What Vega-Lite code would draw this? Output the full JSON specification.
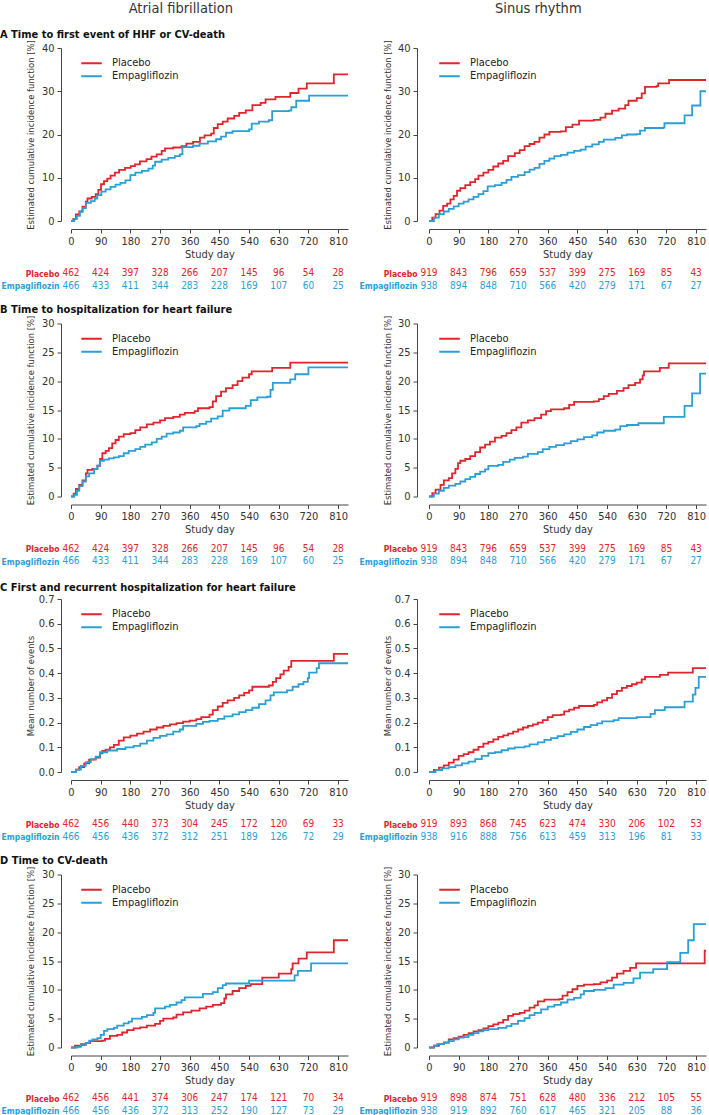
{
"$schema":"https://vega.github.io/schema/vega-lite/v6.json",
"padding":{"left":0,"top":1,"right":0,"bottom":0},
"config":{
 "font":"Liberation Sans Narrow, Arial Narrow, DejaVu Sans Condensed, sans-serif",
 "view":{"stroke":null},
 "axis":{"grid":false,"domainColor":"#444","tickColor":"#444","labelColor":"#333","titleColor":"#333","labelFontSize":11,"titleFontSize":11,"titleFontWeight":"normal","tickSize":4,"labelOverlap":false},
 "legend":{"orient":"none","legendX":9,"legendY":9,"symbolType":"stroke","symbolSize":420,"symbolStrokeWidth":2,"labelFontSize":11,"labelColor":"#222","labelOffset":9,"rowPadding":0,"clipHeight":12.5}
},
"datasets":{
"A_AF":[
{"group":"Placebo","day":0,"value":0},{"group":"Placebo","day":7,"value":0.5},{"group":"Placebo","day":15,"value":1.5},{"group":"Placebo","day":25,"value":2.2},{"group":"Placebo","day":35,"value":3.3},{"group":"Placebo","day":45,"value":4.5},{"group":"Placebo","day":50,"value":5.2},{"group":"Placebo","day":63,"value":5.6},{"group":"Placebo","day":75,"value":6.2},{"group":"Placebo","day":83,"value":7.2},{"group":"Placebo","day":91,"value":8.5},{"group":"Placebo","day":100,"value":9.2},{"group":"Placebo","day":110,"value":9.8},{"group":"Placebo","day":120,"value":10.5},{"group":"Placebo","day":133,"value":11.2},{"group":"Placebo","day":146,"value":11.8},{"group":"Placebo","day":164,"value":12.3},{"group":"Placebo","day":181,"value":12.7},{"group":"Placebo","day":194,"value":13.1},{"group":"Placebo","day":209,"value":13.8},{"group":"Placebo","day":229,"value":14.3},{"group":"Placebo","day":244,"value":14.9},{"group":"Placebo","day":260,"value":15.4},{"group":"Placebo","day":275,"value":16.2},{"group":"Placebo","day":285,"value":16.8},{"group":"Placebo","day":310,"value":17},{"group":"Placebo","day":335,"value":17.3},{"group":"Placebo","day":350,"value":17.9},{"group":"Placebo","day":370,"value":18.3},{"group":"Placebo","day":391,"value":19.3},{"group":"Placebo","day":405,"value":19.8},{"group":"Placebo","day":425,"value":20.2},{"group":"Placebo","day":433,"value":21.5},{"group":"Placebo","day":445,"value":22.4},{"group":"Placebo","day":460,"value":23},{"group":"Placebo","day":475,"value":23.7},{"group":"Placebo","day":495,"value":24.3},{"group":"Placebo","day":510,"value":25},{"group":"Placebo","day":530,"value":25.6},{"group":"Placebo","day":550,"value":26.8},{"group":"Placebo","day":575,"value":27.3},{"group":"Placebo","day":590,"value":28.1},{"group":"Placebo","day":620,"value":28.7},{"group":"Placebo","day":665,"value":29.6},{"group":"Placebo","day":690,"value":30.6},{"group":"Placebo","day":715,"value":31.8},{"group":"Placebo","day":797,"value":33.9},{"group":"Placebo","day":840,"value":33.9},
{"group":"Empagliflozin","day":0,"value":0},{"group":"Empagliflozin","day":10,"value":0.5},{"group":"Empagliflozin","day":18,"value":1.2},{"group":"Empagliflozin","day":27,"value":2.2},{"group":"Empagliflozin","day":35,"value":3},{"group":"Empagliflozin","day":45,"value":4.2},{"group":"Empagliflozin","day":60,"value":4.6},{"group":"Empagliflozin","day":72,"value":5.2},{"group":"Empagliflozin","day":80,"value":6},{"group":"Empagliflozin","day":92,"value":6.8},{"group":"Empagliflozin","day":105,"value":7.3},{"group":"Empagliflozin","day":120,"value":7.9},{"group":"Empagliflozin","day":135,"value":8.4},{"group":"Empagliflozin","day":150,"value":8.8},{"group":"Empagliflozin","day":165,"value":9.4},{"group":"Empagliflozin","day":180,"value":10.6},{"group":"Empagliflozin","day":195,"value":11.2},{"group":"Empagliflozin","day":215,"value":11.6},{"group":"Empagliflozin","day":235,"value":12.1},{"group":"Empagliflozin","day":248,"value":12.8},{"group":"Empagliflozin","day":255,"value":13.7},{"group":"Empagliflozin","day":275,"value":14.2},{"group":"Empagliflozin","day":295,"value":14.6},{"group":"Empagliflozin","day":315,"value":15},{"group":"Empagliflozin","day":330,"value":15.4},{"group":"Empagliflozin","day":338,"value":17.1},{"group":"Empagliflozin","day":370,"value":17.4},{"group":"Empagliflozin","day":390,"value":17.9},{"group":"Empagliflozin","day":415,"value":18.4},{"group":"Empagliflozin","day":440,"value":18.9},{"group":"Empagliflozin","day":455,"value":19.5},{"group":"Empagliflozin","day":470,"value":20.4},{"group":"Empagliflozin","day":490,"value":20.8},{"group":"Empagliflozin","day":540,"value":21.2},{"group":"Empagliflozin","day":548,"value":22.5},{"group":"Empagliflozin","day":570,"value":23},{"group":"Empagliflozin","day":600,"value":23.3},{"group":"Empagliflozin","day":610,"value":25.4},{"group":"Empagliflozin","day":660,"value":25.5},{"group":"Empagliflozin","day":668,"value":26.3},{"group":"Empagliflozin","day":683,"value":27.8},{"group":"Empagliflozin","day":722,"value":29},{"group":"Empagliflozin","day":840,"value":29}],
"A_SR":[
{"group":"Placebo","day":0,"value":0},{"group":"Placebo","day":10,"value":0.8},{"group":"Placebo","day":20,"value":1.6},{"group":"Placebo","day":32,"value":2.4},{"group":"Placebo","day":43,"value":3.5},{"group":"Placebo","day":55,"value":4},{"group":"Placebo","day":65,"value":5},{"group":"Placebo","day":75,"value":5.8},{"group":"Placebo","day":85,"value":7},{"group":"Placebo","day":95,"value":7.6},{"group":"Placebo","day":110,"value":8.3},{"group":"Placebo","day":125,"value":9},{"group":"Placebo","day":140,"value":9.7},{"group":"Placebo","day":150,"value":10.5},{"group":"Placebo","day":165,"value":11.2},{"group":"Placebo","day":180,"value":11.8},{"group":"Placebo","day":195,"value":12.6},{"group":"Placebo","day":210,"value":13.3},{"group":"Placebo","day":225,"value":13.9},{"group":"Placebo","day":240,"value":15},{"group":"Placebo","day":260,"value":15.7},{"group":"Placebo","day":275,"value":16.4},{"group":"Placebo","day":290,"value":17.3},{"group":"Placebo","day":305,"value":17.8},{"group":"Placebo","day":320,"value":18.3},{"group":"Placebo","day":335,"value":19.3},{"group":"Placebo","day":350,"value":20},{"group":"Placebo","day":365,"value":20.6},{"group":"Placebo","day":400,"value":20.7},{"group":"Placebo","day":415,"value":21.7},{"group":"Placebo","day":435,"value":22.3},{"group":"Placebo","day":455,"value":23.2},{"group":"Placebo","day":500,"value":23.4},{"group":"Placebo","day":520,"value":23.9},{"group":"Placebo","day":535,"value":24.8},{"group":"Placebo","day":555,"value":25.5},{"group":"Placebo","day":575,"value":26},{"group":"Placebo","day":595,"value":26.8},{"group":"Placebo","day":605,"value":27.8},{"group":"Placebo","day":630,"value":28.4},{"group":"Placebo","day":645,"value":29.5},{"group":"Placebo","day":655,"value":31},{"group":"Placebo","day":690,"value":31.2},{"group":"Placebo","day":695,"value":31.8},{"group":"Placebo","day":728,"value":32.6},{"group":"Placebo","day":840,"value":32.6},
{"group":"Empagliflozin","day":0,"value":0},{"group":"Empagliflozin","day":15,"value":0.8},{"group":"Empagliflozin","day":30,"value":1.6},{"group":"Empagliflozin","day":45,"value":2.2},{"group":"Empagliflozin","day":60,"value":2.8},{"group":"Empagliflozin","day":75,"value":3.4},{"group":"Empagliflozin","day":90,"value":4},{"group":"Empagliflozin","day":105,"value":4.5},{"group":"Empagliflozin","day":120,"value":5},{"group":"Empagliflozin","day":135,"value":5.6},{"group":"Empagliflozin","day":150,"value":6.2},{"group":"Empagliflozin","day":165,"value":6.9},{"group":"Empagliflozin","day":178,"value":8},{"group":"Empagliflozin","day":200,"value":8.3},{"group":"Empagliflozin","day":220,"value":8.8},{"group":"Empagliflozin","day":235,"value":9.5},{"group":"Empagliflozin","day":250,"value":10.2},{"group":"Empagliflozin","day":270,"value":10.6},{"group":"Empagliflozin","day":290,"value":11.3},{"group":"Empagliflozin","day":305,"value":11.9},{"group":"Empagliflozin","day":320,"value":12.3},{"group":"Empagliflozin","day":335,"value":13.2},{"group":"Empagliflozin","day":350,"value":13.9},{"group":"Empagliflozin","day":365,"value":14.4},{"group":"Empagliflozin","day":380,"value":15},{"group":"Empagliflozin","day":400,"value":15.3},{"group":"Empagliflozin","day":420,"value":15.8},{"group":"Empagliflozin","day":440,"value":16.2},{"group":"Empagliflozin","day":460,"value":16.5},{"group":"Empagliflozin","day":475,"value":17.2},{"group":"Empagliflozin","day":495,"value":17.7},{"group":"Empagliflozin","day":515,"value":18.3},{"group":"Empagliflozin","day":530,"value":18.8},{"group":"Empagliflozin","day":565,"value":19.2},{"group":"Empagliflozin","day":585,"value":19.8},{"group":"Empagliflozin","day":600,"value":20},{"group":"Empagliflozin","day":630,"value":20.1},{"group":"Empagliflozin","day":640,"value":20.9},{"group":"Empagliflozin","day":655,"value":21.5},{"group":"Empagliflozin","day":710,"value":21.6},{"group":"Empagliflozin","day":714,"value":22.6},{"group":"Empagliflozin","day":775,"value":24.4},{"group":"Empagliflozin","day":798,"value":26.7},{"group":"Empagliflozin","day":823,"value":30},{"group":"Empagliflozin","day":840,"value":30}],
"B_AF":[
{"group":"Placebo","day":0,"value":0},{"group":"Placebo","day":8,"value":0.5},{"group":"Placebo","day":15,"value":1.3},{"group":"Placebo","day":25,"value":2},{"group":"Placebo","day":35,"value":2.8},{"group":"Placebo","day":45,"value":4},{"group":"Placebo","day":50,"value":4.6},{"group":"Placebo","day":65,"value":4.8},{"group":"Placebo","day":80,"value":5.3},{"group":"Placebo","day":88,"value":6.5},{"group":"Placebo","day":95,"value":7.5},{"group":"Placebo","day":105,"value":7.9},{"group":"Placebo","day":115,"value":8.4},{"group":"Placebo","day":125,"value":9.2},{"group":"Placebo","day":135,"value":9.8},{"group":"Placebo","day":145,"value":10.4},{"group":"Placebo","day":160,"value":10.8},{"group":"Placebo","day":180,"value":11},{"group":"Placebo","day":195,"value":11.5},{"group":"Placebo","day":210,"value":12},{"group":"Placebo","day":230,"value":12.5},{"group":"Placebo","day":250,"value":12.8},{"group":"Placebo","day":270,"value":13.2},{"group":"Placebo","day":285,"value":13.6},{"group":"Placebo","day":310,"value":13.8},{"group":"Placebo","day":330,"value":14.2},{"group":"Placebo","day":345,"value":14.5},{"group":"Placebo","day":375,"value":14.8},{"group":"Placebo","day":385,"value":15.3},{"group":"Placebo","day":420,"value":15.5},{"group":"Placebo","day":430,"value":16.5},{"group":"Placebo","day":440,"value":17.4},{"group":"Placebo","day":455,"value":18.2},{"group":"Placebo","day":470,"value":18.8},{"group":"Placebo","day":490,"value":19.3},{"group":"Placebo","day":505,"value":20},{"group":"Placebo","day":520,"value":20.6},{"group":"Placebo","day":540,"value":21.2},{"group":"Placebo","day":548,"value":21.7},{"group":"Placebo","day":610,"value":22.3},{"group":"Placebo","day":665,"value":23.2},{"group":"Placebo","day":840,"value":23.2},
{"group":"Empagliflozin","day":0,"value":0},{"group":"Empagliflozin","day":10,"value":0.3},{"group":"Empagliflozin","day":18,"value":1},{"group":"Empagliflozin","day":25,"value":1.8},{"group":"Empagliflozin","day":35,"value":2.6},{"group":"Empagliflozin","day":45,"value":3.5},{"group":"Empagliflozin","day":55,"value":4},{"group":"Empagliflozin","day":70,"value":4.8},{"group":"Empagliflozin","day":80,"value":5.4},{"group":"Empagliflozin","day":88,"value":6.2},{"group":"Empagliflozin","day":100,"value":6.4},{"group":"Empagliflozin","day":115,"value":6.6},{"group":"Empagliflozin","day":130,"value":6.8},{"group":"Empagliflozin","day":145,"value":7},{"group":"Empagliflozin","day":160,"value":7.5},{"group":"Empagliflozin","day":175,"value":7.9},{"group":"Empagliflozin","day":195,"value":8.2},{"group":"Empagliflozin","day":210,"value":8.6},{"group":"Empagliflozin","day":225,"value":9},{"group":"Empagliflozin","day":245,"value":9.4},{"group":"Empagliflozin","day":260,"value":10},{"group":"Empagliflozin","day":275,"value":10.4},{"group":"Empagliflozin","day":290,"value":10.9},{"group":"Empagliflozin","day":310,"value":11.1},{"group":"Empagliflozin","day":330,"value":11.4},{"group":"Empagliflozin","day":340,"value":12},{"group":"Empagliflozin","day":380,"value":12.2},{"group":"Empagliflozin","day":390,"value":12.6},{"group":"Empagliflozin","day":410,"value":13},{"group":"Empagliflozin","day":425,"value":13.5},{"group":"Empagliflozin","day":445,"value":13.9},{"group":"Empagliflozin","day":460,"value":14.9},{"group":"Empagliflozin","day":480,"value":15.3},{"group":"Empagliflozin","day":530,"value":15.7},{"group":"Empagliflozin","day":545,"value":16.7},{"group":"Empagliflozin","day":565,"value":17.2},{"group":"Empagliflozin","day":595,"value":17.3},{"group":"Empagliflozin","day":605,"value":18.5},{"group":"Empagliflozin","day":612,"value":19.7},{"group":"Empagliflozin","day":665,"value":20.3},{"group":"Empagliflozin","day":680,"value":21.2},{"group":"Empagliflozin","day":720,"value":22.4},{"group":"Empagliflozin","day":840,"value":22.4}],
"B_SR":[
{"group":"Placebo","day":0,"value":0},{"group":"Placebo","day":10,"value":0.6},{"group":"Placebo","day":20,"value":1.2},{"group":"Placebo","day":35,"value":2},{"group":"Placebo","day":45,"value":2.8},{"group":"Placebo","day":60,"value":3.2},{"group":"Placebo","day":70,"value":4},{"group":"Placebo","day":80,"value":4.8},{"group":"Placebo","day":88,"value":5.8},{"group":"Placebo","day":95,"value":6.2},{"group":"Placebo","day":110,"value":6.5},{"group":"Placebo","day":125,"value":7},{"group":"Placebo","day":140,"value":7.7},{"group":"Placebo","day":155,"value":8.5},{"group":"Placebo","day":170,"value":9},{"group":"Placebo","day":185,"value":9.5},{"group":"Placebo","day":200,"value":10.2},{"group":"Placebo","day":220,"value":10.5},{"group":"Placebo","day":235,"value":11},{"group":"Placebo","day":250,"value":11.5},{"group":"Placebo","day":265,"value":12},{"group":"Placebo","day":280,"value":12.8},{"group":"Placebo","day":300,"value":13.2},{"group":"Placebo","day":320,"value":13.6},{"group":"Placebo","day":340,"value":14.2},{"group":"Placebo","day":355,"value":14.8},{"group":"Placebo","day":370,"value":15.1},{"group":"Placebo","day":410,"value":15.3},{"group":"Placebo","day":425,"value":15.9},{"group":"Placebo","day":440,"value":16.4},{"group":"Placebo","day":500,"value":16.5},{"group":"Placebo","day":515,"value":16.9},{"group":"Placebo","day":530,"value":17.4},{"group":"Placebo","day":545,"value":17.8},{"group":"Placebo","day":570,"value":18.3},{"group":"Placebo","day":590,"value":18.8},{"group":"Placebo","day":605,"value":19.3},{"group":"Placebo","day":625,"value":19.7},{"group":"Placebo","day":640,"value":20.3},{"group":"Placebo","day":648,"value":21},{"group":"Placebo","day":652,"value":21.7},{"group":"Placebo","day":700,"value":22.3},{"group":"Placebo","day":727,"value":23.1},{"group":"Placebo","day":840,"value":23.1},
{"group":"Empagliflozin","day":0,"value":0},{"group":"Empagliflozin","day":15,"value":0.5},{"group":"Empagliflozin","day":30,"value":1},{"group":"Empagliflozin","day":45,"value":1.5},{"group":"Empagliflozin","day":60,"value":1.9},{"group":"Empagliflozin","day":80,"value":2.2},{"group":"Empagliflozin","day":95,"value":2.6},{"group":"Empagliflozin","day":110,"value":3},{"group":"Empagliflozin","day":125,"value":3.4},{"group":"Empagliflozin","day":140,"value":3.9},{"group":"Empagliflozin","day":155,"value":4.3},{"group":"Empagliflozin","day":170,"value":4.7},{"group":"Empagliflozin","day":180,"value":5.3},{"group":"Empagliflozin","day":210,"value":5.5},{"group":"Empagliflozin","day":225,"value":6},{"group":"Empagliflozin","day":245,"value":6.4},{"group":"Empagliflozin","day":260,"value":6.7},{"group":"Empagliflozin","day":285,"value":6.9},{"group":"Empagliflozin","day":300,"value":7.4},{"group":"Empagliflozin","day":330,"value":7.7},{"group":"Empagliflozin","day":345,"value":8.2},{"group":"Empagliflozin","day":365,"value":8.6},{"group":"Empagliflozin","day":385,"value":8.9},{"group":"Empagliflozin","day":410,"value":9.2},{"group":"Empagliflozin","day":430,"value":9.6},{"group":"Empagliflozin","day":450,"value":9.9},{"group":"Empagliflozin","day":470,"value":10.3},{"group":"Empagliflozin","day":495,"value":10.6},{"group":"Empagliflozin","day":510,"value":11.1},{"group":"Empagliflozin","day":530,"value":11.4},{"group":"Empagliflozin","day":565,"value":11.6},{"group":"Empagliflozin","day":580,"value":12.2},{"group":"Empagliflozin","day":600,"value":12.4},{"group":"Empagliflozin","day":635,"value":12.7},{"group":"Empagliflozin","day":712,"value":13.8},{"group":"Empagliflozin","day":775,"value":15.7},{"group":"Empagliflozin","day":798,"value":17.9},{"group":"Empagliflozin","day":822,"value":21.3},{"group":"Empagliflozin","day":840,"value":21.3}],
"C_AF":[
{"group":"Placebo","day":0,"value":0},{"group":"Placebo","day":15,"value":0.01},{"group":"Placebo","day":25,"value":0.02},{"group":"Placebo","day":40,"value":0.035},{"group":"Placebo","day":55,"value":0.05},{"group":"Placebo","day":75,"value":0.058},{"group":"Placebo","day":88,"value":0.075},{"group":"Placebo","day":95,"value":0.085},{"group":"Placebo","day":105,"value":0.09},{"group":"Placebo","day":118,"value":0.1},{"group":"Placebo","day":130,"value":0.11},{"group":"Placebo","day":145,"value":0.127},{"group":"Placebo","day":160,"value":0.14},{"group":"Placebo","day":180,"value":0.147},{"group":"Placebo","day":200,"value":0.155},{"group":"Placebo","day":220,"value":0.163},{"group":"Placebo","day":240,"value":0.172},{"group":"Placebo","day":260,"value":0.18},{"group":"Placebo","day":280,"value":0.187},{"group":"Placebo","day":300,"value":0.193},{"group":"Placebo","day":320,"value":0.198},{"group":"Placebo","day":340,"value":0.204},{"group":"Placebo","day":360,"value":0.208},{"group":"Placebo","day":380,"value":0.214},{"group":"Placebo","day":395,"value":0.222},{"group":"Placebo","day":420,"value":0.232},{"group":"Placebo","day":430,"value":0.25},{"group":"Placebo","day":445,"value":0.265},{"group":"Placebo","day":460,"value":0.28},{"group":"Placebo","day":475,"value":0.29},{"group":"Placebo","day":495,"value":0.3},{"group":"Placebo","day":510,"value":0.31},{"group":"Placebo","day":525,"value":0.32},{"group":"Placebo","day":540,"value":0.33},{"group":"Placebo","day":550,"value":0.345},{"group":"Placebo","day":600,"value":0.35},{"group":"Placebo","day":612,"value":0.365},{"group":"Placebo","day":622,"value":0.38},{"group":"Placebo","day":635,"value":0.395},{"group":"Placebo","day":645,"value":0.41},{"group":"Placebo","day":660,"value":0.425},{"group":"Placebo","day":668,"value":0.45},{"group":"Placebo","day":797,"value":0.478},{"group":"Placebo","day":840,"value":0.478},
{"group":"Empagliflozin","day":0,"value":0},{"group":"Empagliflozin","day":15,"value":0.01},{"group":"Empagliflozin","day":30,"value":0.025},{"group":"Empagliflozin","day":45,"value":0.04},{"group":"Empagliflozin","day":60,"value":0.052},{"group":"Empagliflozin","day":75,"value":0.062},{"group":"Empagliflozin","day":88,"value":0.08},{"group":"Empagliflozin","day":110,"value":0.087},{"group":"Empagliflozin","day":140,"value":0.093},{"group":"Empagliflozin","day":165,"value":0.1},{"group":"Empagliflozin","day":190,"value":0.106},{"group":"Empagliflozin","day":210,"value":0.115},{"group":"Empagliflozin","day":230,"value":0.127},{"group":"Empagliflozin","day":250,"value":0.138},{"group":"Empagliflozin","day":270,"value":0.146},{"group":"Empagliflozin","day":290,"value":0.152},{"group":"Empagliflozin","day":310,"value":0.163},{"group":"Empagliflozin","day":330,"value":0.172},{"group":"Empagliflozin","day":340,"value":0.187},{"group":"Empagliflozin","day":380,"value":0.195},{"group":"Empagliflozin","day":400,"value":0.203},{"group":"Empagliflozin","day":420,"value":0.207},{"group":"Empagliflozin","day":445,"value":0.215},{"group":"Empagliflozin","day":465,"value":0.225},{"group":"Empagliflozin","day":490,"value":0.233},{"group":"Empagliflozin","day":510,"value":0.242},{"group":"Empagliflozin","day":530,"value":0.25},{"group":"Empagliflozin","day":550,"value":0.26},{"group":"Empagliflozin","day":570,"value":0.275},{"group":"Empagliflozin","day":590,"value":0.29},{"group":"Empagliflozin","day":605,"value":0.31},{"group":"Empagliflozin","day":615,"value":0.322},{"group":"Empagliflozin","day":655,"value":0.33},{"group":"Empagliflozin","day":672,"value":0.345},{"group":"Empagliflozin","day":690,"value":0.355},{"group":"Empagliflozin","day":705,"value":0.365},{"group":"Empagliflozin","day":718,"value":0.38},{"group":"Empagliflozin","day":722,"value":0.402},{"group":"Empagliflozin","day":745,"value":0.42},{"group":"Empagliflozin","day":752,"value":0.44},{"group":"Empagliflozin","day":840,"value":0.44}],
"C_SR":[
{"group":"Placebo","day":0,"value":0},{"group":"Placebo","day":15,"value":0.008},{"group":"Placebo","day":30,"value":0.018},{"group":"Placebo","day":45,"value":0.027},{"group":"Placebo","day":60,"value":0.038},{"group":"Placebo","day":75,"value":0.05},{"group":"Placebo","day":90,"value":0.065},{"group":"Placebo","day":105,"value":0.072},{"group":"Placebo","day":120,"value":0.08},{"group":"Placebo","day":135,"value":0.09},{"group":"Placebo","day":150,"value":0.102},{"group":"Placebo","day":165,"value":0.115},{"group":"Placebo","day":180,"value":0.122},{"group":"Placebo","day":195,"value":0.132},{"group":"Placebo","day":210,"value":0.142},{"group":"Placebo","day":225,"value":0.148},{"group":"Placebo","day":240,"value":0.155},{"group":"Placebo","day":255,"value":0.163},{"group":"Placebo","day":270,"value":0.172},{"group":"Placebo","day":285,"value":0.18},{"group":"Placebo","day":300,"value":0.187},{"group":"Placebo","day":315,"value":0.193},{"group":"Placebo","day":330,"value":0.2},{"group":"Placebo","day":345,"value":0.21},{"group":"Placebo","day":360,"value":0.222},{"group":"Placebo","day":375,"value":0.23},{"group":"Placebo","day":400,"value":0.232},{"group":"Placebo","day":410,"value":0.245},{"group":"Placebo","day":425,"value":0.252},{"group":"Placebo","day":440,"value":0.26},{"group":"Placebo","day":455,"value":0.267},{"group":"Placebo","day":500,"value":0.272},{"group":"Placebo","day":510,"value":0.282},{"group":"Placebo","day":525,"value":0.29},{"group":"Placebo","day":540,"value":0.3},{"group":"Placebo","day":555,"value":0.315},{"group":"Placebo","day":570,"value":0.328},{"group":"Placebo","day":585,"value":0.34},{"group":"Placebo","day":600,"value":0.348},{"group":"Placebo","day":615,"value":0.355},{"group":"Placebo","day":630,"value":0.362},{"group":"Placebo","day":645,"value":0.375},{"group":"Placebo","day":655,"value":0.385},{"group":"Placebo","day":700,"value":0.393},{"group":"Placebo","day":725,"value":0.402},{"group":"Placebo","day":800,"value":0.42},{"group":"Placebo","day":840,"value":0.42},
{"group":"Empagliflozin","day":0,"value":0},{"group":"Empagliflozin","day":20,"value":0.008},{"group":"Empagliflozin","day":40,"value":0.015},{"group":"Empagliflozin","day":60,"value":0.02},{"group":"Empagliflozin","day":80,"value":0.027},{"group":"Empagliflozin","day":100,"value":0.035},{"group":"Empagliflozin","day":120,"value":0.042},{"group":"Empagliflozin","day":140,"value":0.052},{"group":"Empagliflozin","day":160,"value":0.065},{"group":"Empagliflozin","day":180,"value":0.076},{"group":"Empagliflozin","day":200,"value":0.08},{"group":"Empagliflozin","day":220,"value":0.088},{"group":"Empagliflozin","day":240,"value":0.095},{"group":"Empagliflozin","day":260,"value":0.1},{"group":"Empagliflozin","day":290,"value":0.104},{"group":"Empagliflozin","day":305,"value":0.112},{"group":"Empagliflozin","day":330,"value":0.12},{"group":"Empagliflozin","day":350,"value":0.13},{"group":"Empagliflozin","day":370,"value":0.137},{"group":"Empagliflozin","day":390,"value":0.145},{"group":"Empagliflozin","day":410,"value":0.152},{"group":"Empagliflozin","day":430,"value":0.162},{"group":"Empagliflozin","day":450,"value":0.172},{"group":"Empagliflozin","day":470,"value":0.182},{"group":"Empagliflozin","day":490,"value":0.19},{"group":"Empagliflozin","day":510,"value":0.197},{"group":"Empagliflozin","day":525,"value":0.205},{"group":"Empagliflozin","day":560,"value":0.21},{"group":"Empagliflozin","day":575,"value":0.218},{"group":"Empagliflozin","day":630,"value":0.222},{"group":"Empagliflozin","day":672,"value":0.235},{"group":"Empagliflozin","day":685,"value":0.25},{"group":"Empagliflozin","day":715,"value":0.262},{"group":"Empagliflozin","day":775,"value":0.285},{"group":"Empagliflozin","day":800,"value":0.313},{"group":"Empagliflozin","day":808,"value":0.34},{"group":"Empagliflozin","day":818,"value":0.385},{"group":"Empagliflozin","day":840,"value":0.385}],
"D_AF":[
{"group":"Placebo","day":0,"value":0},{"group":"Placebo","day":12,"value":0.3},{"group":"Placebo","day":30,"value":0.6},{"group":"Placebo","day":45,"value":0.8},{"group":"Placebo","day":58,"value":1.1},{"group":"Placebo","day":95,"value":1.2},{"group":"Placebo","day":103,"value":1.5},{"group":"Placebo","day":118,"value":2},{"group":"Placebo","day":140,"value":2.2},{"group":"Placebo","day":155,"value":2.6},{"group":"Placebo","day":170,"value":3},{"group":"Placebo","day":190,"value":3.3},{"group":"Placebo","day":210,"value":3.5},{"group":"Placebo","day":230,"value":3.8},{"group":"Placebo","day":255,"value":4.1},{"group":"Placebo","day":270,"value":4.6},{"group":"Placebo","day":280,"value":5},{"group":"Placebo","day":310,"value":5.2},{"group":"Placebo","day":320,"value":5.7},{"group":"Placebo","day":340,"value":6.1},{"group":"Placebo","day":365,"value":6.4},{"group":"Placebo","day":390,"value":6.8},{"group":"Placebo","day":410,"value":7.1},{"group":"Placebo","day":430,"value":7.4},{"group":"Placebo","day":455,"value":7.7},{"group":"Placebo","day":465,"value":8.5},{"group":"Placebo","day":470,"value":9.2},{"group":"Placebo","day":490,"value":9.8},{"group":"Placebo","day":510,"value":10.3},{"group":"Placebo","day":530,"value":10.7},{"group":"Placebo","day":545,"value":11},{"group":"Placebo","day":580,"value":12.1},{"group":"Placebo","day":630,"value":12.8},{"group":"Placebo","day":668,"value":13.6},{"group":"Placebo","day":672,"value":14.6},{"group":"Placebo","day":690,"value":15.4},{"group":"Placebo","day":715,"value":16.5},{"group":"Placebo","day":797,"value":18.6},{"group":"Placebo","day":840,"value":18.6},
{"group":"Empagliflozin","day":0,"value":0},{"group":"Empagliflozin","day":20,"value":0.1},{"group":"Empagliflozin","day":30,"value":0.4},{"group":"Empagliflozin","day":45,"value":0.8},{"group":"Empagliflozin","day":55,"value":1.2},{"group":"Empagliflozin","day":65,"value":1.4},{"group":"Empagliflozin","day":80,"value":1.6},{"group":"Empagliflozin","day":90,"value":2.2},{"group":"Empagliflozin","day":100,"value":2.9},{"group":"Empagliflozin","day":110,"value":3.2},{"group":"Empagliflozin","day":130,"value":3.4},{"group":"Empagliflozin","day":140,"value":3.8},{"group":"Empagliflozin","day":160,"value":4.2},{"group":"Empagliflozin","day":175,"value":4.5},{"group":"Empagliflozin","day":185,"value":5},{"group":"Empagliflozin","day":215,"value":5.3},{"group":"Empagliflozin","day":230,"value":5.6},{"group":"Empagliflozin","day":250,"value":6},{"group":"Empagliflozin","day":255,"value":6.8},{"group":"Empagliflozin","day":285,"value":7.1},{"group":"Empagliflozin","day":300,"value":7.4},{"group":"Empagliflozin","day":320,"value":7.8},{"group":"Empagliflozin","day":335,"value":8.2},{"group":"Empagliflozin","day":345,"value":8.7},{"group":"Empagliflozin","day":400,"value":9.3},{"group":"Empagliflozin","day":430,"value":9.6},{"group":"Empagliflozin","day":445,"value":10.3},{"group":"Empagliflozin","day":460,"value":10.8},{"group":"Empagliflozin","day":470,"value":11.1},{"group":"Empagliflozin","day":540,"value":11.6},{"group":"Empagliflozin","day":678,"value":12.5},{"group":"Empagliflozin","day":688,"value":13.3},{"group":"Empagliflozin","day":728,"value":14.6},{"group":"Empagliflozin","day":840,"value":14.6}],
"D_SR":[
{"group":"Placebo","day":0,"value":0},{"group":"Placebo","day":15,"value":0.3},{"group":"Placebo","day":30,"value":0.6},{"group":"Placebo","day":45,"value":0.9},{"group":"Placebo","day":60,"value":1.4},{"group":"Placebo","day":75,"value":1.6},{"group":"Placebo","day":90,"value":1.9},{"group":"Placebo","day":105,"value":2.2},{"group":"Placebo","day":120,"value":2.5},{"group":"Placebo","day":135,"value":2.8},{"group":"Placebo","day":150,"value":3},{"group":"Placebo","day":165,"value":3.3},{"group":"Placebo","day":180,"value":3.7},{"group":"Placebo","day":195,"value":4},{"group":"Placebo","day":210,"value":4.3},{"group":"Placebo","day":225,"value":4.8},{"group":"Placebo","day":240,"value":5.5},{"group":"Placebo","day":255,"value":5.8},{"group":"Placebo","day":275,"value":6},{"group":"Placebo","day":290,"value":6.4},{"group":"Placebo","day":305,"value":6.9},{"group":"Placebo","day":320,"value":7.3},{"group":"Placebo","day":330,"value":8},{"group":"Placebo","day":350,"value":8.3},{"group":"Placebo","day":395,"value":8.4},{"group":"Placebo","day":405,"value":9},{"group":"Placebo","day":420,"value":9.6},{"group":"Placebo","day":435,"value":10.1},{"group":"Placebo","day":450,"value":10.7},{"group":"Placebo","day":470,"value":10.9},{"group":"Placebo","day":500,"value":11},{"group":"Placebo","day":520,"value":11.3},{"group":"Placebo","day":540,"value":11.6},{"group":"Placebo","day":555,"value":12.1},{"group":"Placebo","day":570,"value":12.8},{"group":"Placebo","day":590,"value":13.3},{"group":"Placebo","day":610,"value":13.8},{"group":"Placebo","day":628,"value":14.6},{"group":"Placebo","day":836,"value":16.8},{"group":"Placebo","day":840,"value":16.8},
{"group":"Empagliflozin","day":0,"value":0},{"group":"Empagliflozin","day":15,"value":0.3},{"group":"Empagliflozin","day":25,"value":0.6},{"group":"Empagliflozin","day":45,"value":0.8},{"group":"Empagliflozin","day":60,"value":1.1},{"group":"Empagliflozin","day":75,"value":1.4},{"group":"Empagliflozin","day":90,"value":1.7},{"group":"Empagliflozin","day":105,"value":1.8},{"group":"Empagliflozin","day":120,"value":2.2},{"group":"Empagliflozin","day":135,"value":2.5},{"group":"Empagliflozin","day":150,"value":2.8},{"group":"Empagliflozin","day":165,"value":3},{"group":"Empagliflozin","day":180,"value":3.2},{"group":"Empagliflozin","day":210,"value":3.4},{"group":"Empagliflozin","day":235,"value":3.7},{"group":"Empagliflozin","day":250,"value":4.1},{"group":"Empagliflozin","day":270,"value":4.6},{"group":"Empagliflozin","day":290,"value":5.1},{"group":"Empagliflozin","day":305,"value":5.6},{"group":"Empagliflozin","day":320,"value":6},{"group":"Empagliflozin","day":340,"value":6.6},{"group":"Empagliflozin","day":360,"value":7.1},{"group":"Empagliflozin","day":380,"value":7.4},{"group":"Empagliflozin","day":400,"value":7.8},{"group":"Empagliflozin","day":420,"value":8.3},{"group":"Empagliflozin","day":440,"value":8.6},{"group":"Empagliflozin","day":460,"value":9.2},{"group":"Empagliflozin","day":470,"value":9.8},{"group":"Empagliflozin","day":500,"value":10},{"group":"Empagliflozin","day":535,"value":10.3},{"group":"Empagliflozin","day":560,"value":10.9},{"group":"Empagliflozin","day":590,"value":11.2},{"group":"Empagliflozin","day":620,"value":12},{"group":"Empagliflozin","day":640,"value":13},{"group":"Empagliflozin","day":680,"value":13.6},{"group":"Empagliflozin","day":722,"value":14.8},{"group":"Empagliflozin","day":762,"value":16.4},{"group":"Empagliflozin","day":786,"value":18.6},{"group":"Empagliflozin","day":803,"value":21.4},{"group":"Empagliflozin","day":840,"value":21.4}],
"rAB_AF":[
{"group":"Placebo","day":0,"n":"462"},{"group":"Placebo","day":90,"n":"424"},{"group":"Placebo","day":180,"n":"397"},{"group":"Placebo","day":270,"n":"328"},{"group":"Placebo","day":360,"n":"266"},{"group":"Placebo","day":450,"n":"207"},{"group":"Placebo","day":540,"n":"145"},{"group":"Placebo","day":630,"n":"96"},{"group":"Placebo","day":720,"n":"54"},{"group":"Placebo","day":810,"n":"28"},
{"group":"Empagliflozin","day":0,"n":"466"},{"group":"Empagliflozin","day":90,"n":"433"},{"group":"Empagliflozin","day":180,"n":"411"},{"group":"Empagliflozin","day":270,"n":"344"},{"group":"Empagliflozin","day":360,"n":"283"},{"group":"Empagliflozin","day":450,"n":"228"},{"group":"Empagliflozin","day":540,"n":"169"},{"group":"Empagliflozin","day":630,"n":"107"},{"group":"Empagliflozin","day":720,"n":"60"},{"group":"Empagliflozin","day":810,"n":"25"}],
"rAB_SR":[
{"group":"Placebo","day":0,"n":"919"},{"group":"Placebo","day":90,"n":"843"},{"group":"Placebo","day":180,"n":"796"},{"group":"Placebo","day":270,"n":"659"},{"group":"Placebo","day":360,"n":"537"},{"group":"Placebo","day":450,"n":"399"},{"group":"Placebo","day":540,"n":"275"},{"group":"Placebo","day":630,"n":"169"},{"group":"Placebo","day":720,"n":"85"},{"group":"Placebo","day":810,"n":"43"},
{"group":"Empagliflozin","day":0,"n":"938"},{"group":"Empagliflozin","day":90,"n":"894"},{"group":"Empagliflozin","day":180,"n":"848"},{"group":"Empagliflozin","day":270,"n":"710"},{"group":"Empagliflozin","day":360,"n":"566"},{"group":"Empagliflozin","day":450,"n":"420"},{"group":"Empagliflozin","day":540,"n":"279"},{"group":"Empagliflozin","day":630,"n":"171"},{"group":"Empagliflozin","day":720,"n":"67"},{"group":"Empagliflozin","day":810,"n":"27"}],
"rC_AF":[
{"group":"Placebo","day":0,"n":"462"},{"group":"Placebo","day":90,"n":"456"},{"group":"Placebo","day":180,"n":"440"},{"group":"Placebo","day":270,"n":"373"},{"group":"Placebo","day":360,"n":"304"},{"group":"Placebo","day":450,"n":"245"},{"group":"Placebo","day":540,"n":"172"},{"group":"Placebo","day":630,"n":"120"},{"group":"Placebo","day":720,"n":"69"},{"group":"Placebo","day":810,"n":"33"},
{"group":"Empagliflozin","day":0,"n":"466"},{"group":"Empagliflozin","day":90,"n":"456"},{"group":"Empagliflozin","day":180,"n":"436"},{"group":"Empagliflozin","day":270,"n":"372"},{"group":"Empagliflozin","day":360,"n":"312"},{"group":"Empagliflozin","day":450,"n":"251"},{"group":"Empagliflozin","day":540,"n":"189"},{"group":"Empagliflozin","day":630,"n":"126"},{"group":"Empagliflozin","day":720,"n":"72"},{"group":"Empagliflozin","day":810,"n":"29"}],
"rC_SR":[
{"group":"Placebo","day":0,"n":"919"},{"group":"Placebo","day":90,"n":"893"},{"group":"Placebo","day":180,"n":"868"},{"group":"Placebo","day":270,"n":"745"},{"group":"Placebo","day":360,"n":"623"},{"group":"Placebo","day":450,"n":"474"},{"group":"Placebo","day":540,"n":"330"},{"group":"Placebo","day":630,"n":"206"},{"group":"Placebo","day":720,"n":"102"},{"group":"Placebo","day":810,"n":"53"},
{"group":"Empagliflozin","day":0,"n":"938"},{"group":"Empagliflozin","day":90,"n":"916"},{"group":"Empagliflozin","day":180,"n":"888"},{"group":"Empagliflozin","day":270,"n":"756"},{"group":"Empagliflozin","day":360,"n":"613"},{"group":"Empagliflozin","day":450,"n":"459"},{"group":"Empagliflozin","day":540,"n":"313"},{"group":"Empagliflozin","day":630,"n":"196"},{"group":"Empagliflozin","day":720,"n":"81"},{"group":"Empagliflozin","day":810,"n":"33"}],
"rD_AF":[
{"group":"Placebo","day":0,"n":"462"},{"group":"Placebo","day":90,"n":"456"},{"group":"Placebo","day":180,"n":"441"},{"group":"Placebo","day":270,"n":"374"},{"group":"Placebo","day":360,"n":"306"},{"group":"Placebo","day":450,"n":"247"},{"group":"Placebo","day":540,"n":"174"},{"group":"Placebo","day":630,"n":"121"},{"group":"Placebo","day":720,"n":"70"},{"group":"Placebo","day":810,"n":"34"},
{"group":"Empagliflozin","day":0,"n":"466"},{"group":"Empagliflozin","day":90,"n":"456"},{"group":"Empagliflozin","day":180,"n":"436"},{"group":"Empagliflozin","day":270,"n":"372"},{"group":"Empagliflozin","day":360,"n":"313"},{"group":"Empagliflozin","day":450,"n":"252"},{"group":"Empagliflozin","day":540,"n":"190"},{"group":"Empagliflozin","day":630,"n":"127"},{"group":"Empagliflozin","day":720,"n":"73"},{"group":"Empagliflozin","day":810,"n":"29"}],
"rD_SR":[
{"group":"Placebo","day":0,"n":"919"},{"group":"Placebo","day":90,"n":"898"},{"group":"Placebo","day":180,"n":"874"},{"group":"Placebo","day":270,"n":"751"},{"group":"Placebo","day":360,"n":"628"},{"group":"Placebo","day":450,"n":"480"},{"group":"Placebo","day":540,"n":"336"},{"group":"Placebo","day":630,"n":"212"},{"group":"Placebo","day":720,"n":"105"},{"group":"Placebo","day":810,"n":"55"},
{"group":"Empagliflozin","day":0,"n":"938"},{"group":"Empagliflozin","day":90,"n":"919"},{"group":"Empagliflozin","day":180,"n":"892"},{"group":"Empagliflozin","day":270,"n":"760"},{"group":"Empagliflozin","day":360,"n":"617"},{"group":"Empagliflozin","day":450,"n":"465"},{"group":"Empagliflozin","day":540,"n":"321"},{"group":"Empagliflozin","day":630,"n":"205"},{"group":"Empagliflozin","day":720,"n":"88"},{"group":"Empagliflozin","day":810,"n":"36"}]
},
"hconcat":[
{"title":{"text":"Atrial fibrillation","anchor":"middle","frame":"bounds","dx":5,"fontSize":14.5,"fontWeight":"normal","color":"#333","offset":12},
 "bounds":"flush","spacing":32.25,
 "resolve":{"scale":{"x":"independent","y":"independent","color":"independent"}},
 "vconcat":[
    {"width":277,"height":173,
     "title":{"text":"A Time to first event of HHF or CV-death","anchor":"start","frame":"group","dx":-71,"fontSize":11,"fontWeight":"bold","color":"#111","offset":0},
     "data":{"name":"A_AF"},
     "mark":{"type":"line","interpolate":"step-after","strokeWidth":1.8},
     "encoding":{
      "x":{"field":"day","type":"quantitative","scale":{"domain":[0,840],"nice":false},"axis":{"values":[0,90,180,270,360,450,540,630,720,810],"offset":8,"title":"Study day","labelPadding":2,"titlePadding":2,"labelFlush":false}},
      "y":{"field":"value","type":"quantitative","scale":{"domain":[0,40],"nice":false},"axis":{"values":[0,10,20,30,40],"offset":10,"title":"Estimated cumulative incidence function [%]","titleFontSize":9.4,"titleX":-26,"labelPadding":3}},
      "color":{"field":"group","type":"nominal","title":null,"scale":{"domain":["Placebo","Empagliflozin"],"range":["#e0242c","#2a9fd6"]}}}},
    {"width":277,"height":37.5,"data":{"name":"rAB_AF"},
     "mark":{"type":"text","fontSize":10},
     "encoding":{
      "x":{"field":"day","type":"quantitative","scale":{"domain":[0,840],"nice":false},"axis":null},
      "y":{"field":"group","type":"nominal","scale":{"type":"point","domain":["Placebo","Empagliflozin"],"padding":1,"align":0.79},"axis":{"title":null,"domain":false,"ticks":false,"labelFontWeight":"bold","labelFontSize":8.5,"labelPadding":12,"labelColor":{"condition":{"test":"datum.value==='Placebo'","value":"#e0242c"},"value":"#2a9fd6"}}},
      "text":{"field":"n","type":"nominal"},
      "color":{"condition":{"test":"datum.group==='Placebo'","value":"#e0242c"},"value":"#2a9fd6"}}},
    {"width":277,"height":173,
     "title":{"text":"B Time to hospitalization for heart failure","anchor":"start","frame":"group","dx":-71,"fontSize":11,"fontWeight":"bold","color":"#111","offset":0},
     "data":{"name":"B_AF"},
     "mark":{"type":"line","interpolate":"step-after","strokeWidth":1.8},
     "encoding":{
      "x":{"field":"day","type":"quantitative","scale":{"domain":[0,840],"nice":false},"axis":{"values":[0,90,180,270,360,450,540,630,720,810],"offset":8,"title":"Study day","labelPadding":2,"titlePadding":2,"labelFlush":false}},
      "y":{"field":"value","type":"quantitative","scale":{"domain":[0,30],"nice":false},"axis":{"values":[0,5,10,15,20,25,30],"offset":10,"title":"Estimated cumulative incidence function [%]","titleFontSize":9.4,"titleX":-26,"labelPadding":3}},
      "color":{"field":"group","type":"nominal","title":null,"scale":{"domain":["Placebo","Empagliflozin"],"range":["#e0242c","#2a9fd6"]}}}},
    {"width":277,"height":37.5,"data":{"name":"rAB_AF"},
     "mark":{"type":"text","fontSize":10},
     "encoding":{
      "x":{"field":"day","type":"quantitative","scale":{"domain":[0,840],"nice":false},"axis":null},
      "y":{"field":"group","type":"nominal","scale":{"type":"point","domain":["Placebo","Empagliflozin"],"padding":1,"align":0.79},"axis":{"title":null,"domain":false,"ticks":false,"labelFontWeight":"bold","labelFontSize":8.5,"labelPadding":12,"labelColor":{"condition":{"test":"datum.value==='Placebo'","value":"#e0242c"},"value":"#2a9fd6"}}},
      "text":{"field":"n","type":"nominal"},
      "color":{"condition":{"test":"datum.group==='Placebo'","value":"#e0242c"},"value":"#2a9fd6"}}},
    {"width":277,"height":173,
     "title":{"text":"C First and recurrent hospitalization for heart failure","anchor":"start","frame":"group","dx":-71,"fontSize":11,"fontWeight":"bold","color":"#111","offset":0},
     "data":{"name":"C_AF"},
     "mark":{"type":"line","interpolate":"step-after","strokeWidth":1.8},
     "encoding":{
      "x":{"field":"day","type":"quantitative","scale":{"domain":[0,840],"nice":false},"axis":{"values":[0,90,180,270,360,450,540,630,720,810],"offset":8,"title":"Study day","labelPadding":2,"titlePadding":2,"labelFlush":false}},
      "y":{"field":"value","type":"quantitative","scale":{"domain":[0,0.7],"nice":false},"axis":{"values":[0,0.1,0.2,0.3,0.4,0.5,0.6,0.7],"format":".1f","offset":10,"title":"Mean number of events","titleFontSize":9.4,"titleX":-26,"labelPadding":3}},
      "color":{"field":"group","type":"nominal","title":null,"scale":{"domain":["Placebo","Empagliflozin"],"range":["#e0242c","#2a9fd6"]}}}},
    {"width":277,"height":37.5,"data":{"name":"rC_AF"},
     "mark":{"type":"text","fontSize":10},
     "encoding":{
      "x":{"field":"day","type":"quantitative","scale":{"domain":[0,840],"nice":false},"axis":null},
      "y":{"field":"group","type":"nominal","scale":{"type":"point","domain":["Placebo","Empagliflozin"],"padding":1,"align":0.79},"axis":{"title":null,"domain":false,"ticks":false,"labelFontWeight":"bold","labelFontSize":8.5,"labelPadding":12,"labelColor":{"condition":{"test":"datum.value==='Placebo'","value":"#e0242c"},"value":"#2a9fd6"}}},
      "text":{"field":"n","type":"nominal"},
      "color":{"condition":{"test":"datum.group==='Placebo'","value":"#e0242c"},"value":"#2a9fd6"}}},
    {"width":277,"height":173,
     "title":{"text":"D  Time to CV-death","anchor":"start","frame":"group","dx":-71,"fontSize":11,"fontWeight":"bold","color":"#111","offset":0},
     "data":{"name":"D_AF"},
     "mark":{"type":"line","interpolate":"step-after","strokeWidth":1.8},
     "encoding":{
      "x":{"field":"day","type":"quantitative","scale":{"domain":[0,840],"nice":false},"axis":{"values":[0,90,180,270,360,450,540,630,720,810],"offset":8,"title":"Study day","labelPadding":2,"titlePadding":2,"labelFlush":false}},
      "y":{"field":"value","type":"quantitative","scale":{"domain":[0,30],"nice":false},"axis":{"values":[0,5,10,15,20,25,30],"offset":10,"title":"Estimated cumulative incidence function [%]","titleFontSize":9.4,"titleX":-26,"labelPadding":3}},
      "color":{"field":"group","type":"nominal","title":null,"scale":{"domain":["Placebo","Empagliflozin"],"range":["#e0242c","#2a9fd6"]}}}},
    {"width":277,"height":36,"data":{"name":"rD_AF"},
     "mark":{"type":"text","fontSize":10},
     "encoding":{
      "x":{"field":"day","type":"quantitative","scale":{"domain":[0,840],"nice":false},"axis":null},
      "y":{"field":"group","type":"nominal","scale":{"type":"point","domain":["Placebo","Empagliflozin"],"padding":0.94,"align":0.777},"axis":{"title":null,"domain":false,"ticks":false,"labelFontWeight":"bold","labelFontSize":8.5,"labelPadding":12,"labelColor":{"condition":{"test":"datum.value==='Placebo'","value":"#e0242c"},"value":"#2a9fd6"}}},
      "text":{"field":"n","type":"nominal"},
      "color":{"condition":{"test":"datum.group==='Placebo'","value":"#e0242c"},"value":"#2a9fd6"}}}
 ]},
{"title":{"text":"Sinus rhythm","anchor":"middle","frame":"bounds","dx":4,"fontSize":14.5,"fontWeight":"normal","color":"#333","offset":12},
 "bounds":"flush","spacing":32.25,
 "resolve":{"scale":{"x":"independent","y":"independent","color":"independent"}},
 "vconcat":[
    {"width":277,"height":173,
     "title":{"text":" ","anchor":"start","frame":"group","fontSize":11,"fontWeight":"bold","offset":0},
     "data":{"name":"A_SR"},
     "mark":{"type":"line","interpolate":"step-after","strokeWidth":1.8},
     "encoding":{
      "x":{"field":"day","type":"quantitative","scale":{"domain":[0,840],"nice":false},"axis":{"values":[0,90,180,270,360,450,540,630,720,810],"offset":8,"title":"Study day","labelPadding":2,"titlePadding":2,"labelFlush":false}},
      "y":{"field":"value","type":"quantitative","scale":{"domain":[0,40],"nice":false},"axis":{"values":[0,10,20,30,40],"offset":12,"title":"Estimated cumulative incidence function [%]","titleFontSize":9.4,"titleX":-25,"labelPadding":3}},
      "color":{"field":"group","type":"nominal","title":null,"scale":{"domain":["Placebo","Empagliflozin"],"range":["#e0242c","#2a9fd6"]}}}},
    {"width":277,"height":37.5,"data":{"name":"rAB_SR"},
     "mark":{"type":"text","fontSize":10},
     "encoding":{
      "x":{"field":"day","type":"quantitative","scale":{"domain":[0,840],"nice":false},"axis":null},
      "y":{"field":"group","type":"nominal","scale":{"type":"point","domain":["Placebo","Empagliflozin"],"padding":1,"align":0.79},"axis":{"title":null,"domain":false,"ticks":false,"labelFontWeight":"bold","labelFontSize":8.5,"labelPadding":12,"labelColor":{"condition":{"test":"datum.value==='Placebo'","value":"#e0242c"},"value":"#2a9fd6"}}},
      "text":{"field":"n","type":"nominal"},
      "color":{"condition":{"test":"datum.group==='Placebo'","value":"#e0242c"},"value":"#2a9fd6"}}},
    {"width":277,"height":173,
     "data":{"name":"B_SR"},
     "mark":{"type":"line","interpolate":"step-after","strokeWidth":1.8},
     "encoding":{
      "x":{"field":"day","type":"quantitative","scale":{"domain":[0,840],"nice":false},"axis":{"values":[0,90,180,270,360,450,540,630,720,810],"offset":8,"title":"Study day","labelPadding":2,"titlePadding":2,"labelFlush":false}},
      "y":{"field":"value","type":"quantitative","scale":{"domain":[0,30],"nice":false},"axis":{"values":[0,5,10,15,20,25,30],"offset":12,"title":"Estimated cumulative incidence function [%]","titleFontSize":9.4,"titleX":-25,"labelPadding":3}},
      "color":{"field":"group","type":"nominal","title":null,"scale":{"domain":["Placebo","Empagliflozin"],"range":["#e0242c","#2a9fd6"]}}}},
    {"width":277,"height":37.5,"data":{"name":"rAB_SR"},
     "mark":{"type":"text","fontSize":10},
     "encoding":{
      "x":{"field":"day","type":"quantitative","scale":{"domain":[0,840],"nice":false},"axis":null},
      "y":{"field":"group","type":"nominal","scale":{"type":"point","domain":["Placebo","Empagliflozin"],"padding":1,"align":0.79},"axis":{"title":null,"domain":false,"ticks":false,"labelFontWeight":"bold","labelFontSize":8.5,"labelPadding":12,"labelColor":{"condition":{"test":"datum.value==='Placebo'","value":"#e0242c"},"value":"#2a9fd6"}}},
      "text":{"field":"n","type":"nominal"},
      "color":{"condition":{"test":"datum.group==='Placebo'","value":"#e0242c"},"value":"#2a9fd6"}}},
    {"width":277,"height":173,
     "data":{"name":"C_SR"},
     "mark":{"type":"line","interpolate":"step-after","strokeWidth":1.8},
     "encoding":{
      "x":{"field":"day","type":"quantitative","scale":{"domain":[0,840],"nice":false},"axis":{"values":[0,90,180,270,360,450,540,630,720,810],"offset":8,"title":"Study day","labelPadding":2,"titlePadding":2,"labelFlush":false}},
      "y":{"field":"value","type":"quantitative","scale":{"domain":[0,0.7],"nice":false},"axis":{"values":[0,0.1,0.2,0.3,0.4,0.5,0.6,0.7],"format":".1f","offset":12,"title":"Mean number of events","titleFontSize":9.4,"titleX":-25,"labelPadding":3}},
      "color":{"field":"group","type":"nominal","title":null,"scale":{"domain":["Placebo","Empagliflozin"],"range":["#e0242c","#2a9fd6"]}}}},
    {"width":277,"height":37.5,"data":{"name":"rC_SR"},
     "mark":{"type":"text","fontSize":10},
     "encoding":{
      "x":{"field":"day","type":"quantitative","scale":{"domain":[0,840],"nice":false},"axis":null},
      "y":{"field":"group","type":"nominal","scale":{"type":"point","domain":["Placebo","Empagliflozin"],"padding":1,"align":0.79},"axis":{"title":null,"domain":false,"ticks":false,"labelFontWeight":"bold","labelFontSize":8.5,"labelPadding":12,"labelColor":{"condition":{"test":"datum.value==='Placebo'","value":"#e0242c"},"value":"#2a9fd6"}}},
      "text":{"field":"n","type":"nominal"},
      "color":{"condition":{"test":"datum.group==='Placebo'","value":"#e0242c"},"value":"#2a9fd6"}}},
    {"width":277,"height":173,
     "data":{"name":"D_SR"},
     "mark":{"type":"line","interpolate":"step-after","strokeWidth":1.8},
     "encoding":{
      "x":{"field":"day","type":"quantitative","scale":{"domain":[0,840],"nice":false},"axis":{"values":[0,90,180,270,360,450,540,630,720,810],"offset":8,"title":"Study day","labelPadding":2,"titlePadding":2,"labelFlush":false}},
      "y":{"field":"value","type":"quantitative","scale":{"domain":[0,30],"nice":false},"axis":{"values":[0,5,10,15,20,25,30],"offset":12,"title":"Estimated cumulative incidence function [%]","titleFontSize":9.4,"titleX":-25,"labelPadding":3}},
      "color":{"field":"group","type":"nominal","title":null,"scale":{"domain":["Placebo","Empagliflozin"],"range":["#e0242c","#2a9fd6"]}}}},
    {"width":277,"height":36,"data":{"name":"rD_SR"},
     "mark":{"type":"text","fontSize":10},
     "encoding":{
      "x":{"field":"day","type":"quantitative","scale":{"domain":[0,840],"nice":false},"axis":null},
      "y":{"field":"group","type":"nominal","scale":{"type":"point","domain":["Placebo","Empagliflozin"],"padding":0.94,"align":0.777},"axis":{"title":null,"domain":false,"ticks":false,"labelFontWeight":"bold","labelFontSize":8.5,"labelPadding":12,"labelColor":{"condition":{"test":"datum.value==='Placebo'","value":"#e0242c"},"value":"#2a9fd6"}}},
      "text":{"field":"n","type":"nominal"},
      "color":{"condition":{"test":"datum.group==='Placebo'","value":"#e0242c"},"value":"#2a9fd6"}}}
 ]}
],
"spacing":7,
"resolve":{"scale":{"x":"independent","y":"independent","color":"independent"}}
}
